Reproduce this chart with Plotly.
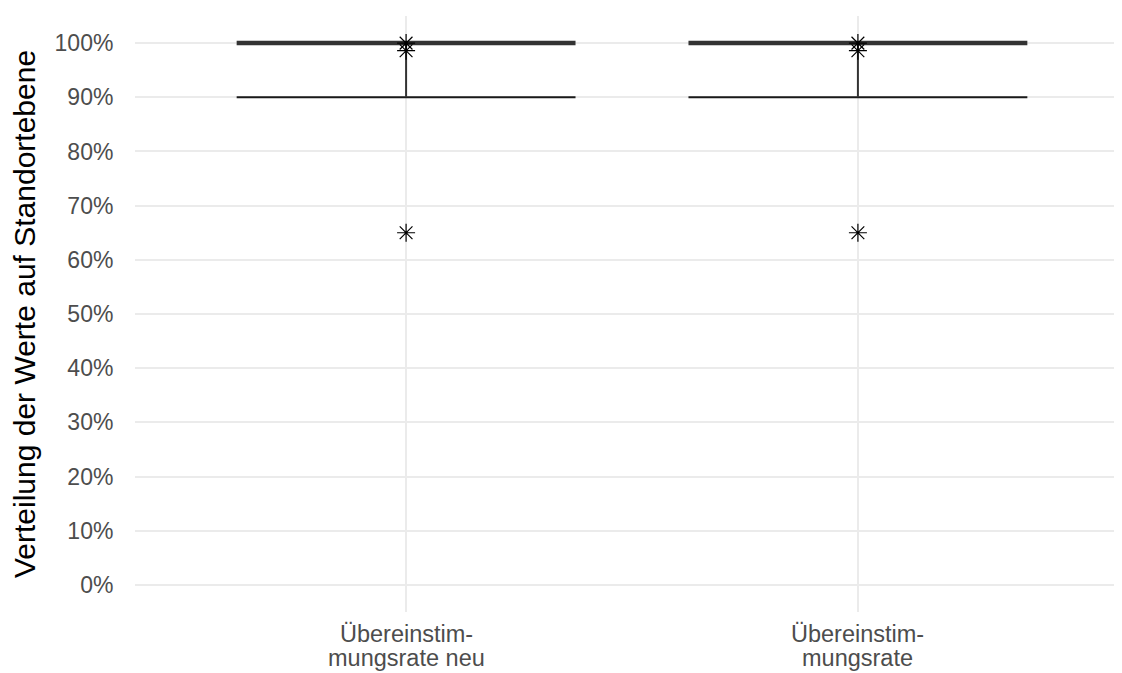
import plotly.graph_objects as go

categories = ["Übereinstim-<br>mungsrate neu", "Übereinstim-<br>mungsrate"]
x_pos = [1, 2]
medians = [100, 100]
lower_whisker = [90, 90]
outliers = [[100, 98.6, 65], [100, 98.6, 65]]
y_ticks = [0, 10, 20, 30, 40, 50, 60, 70, 80, 90, 100]
y_tick_labels = ["0%", "10%", "20%", "30%", "40%", "50%", "60%", "70%", "80%", "90%", "100%"]
box_width = 0.75

fig = go.Figure()
half = box_width / 2
for xi, med, lo, outs in zip(x_pos, medians, lower_whisker, outliers):
    # lower whisker cap
    fig.add_trace(go.Scatter(x=[xi - half, xi + half], y=[lo, lo], mode="lines",
                             line=dict(color="#1a1a1a", width=2), showlegend=False, hoverinfo="skip"))
    # whisker
    fig.add_trace(go.Scatter(x=[xi, xi], y=[lo, med], mode="lines",
                             line=dict(color="#333333", width=2), showlegend=False, hoverinfo="skip"))
    # median (collapsed box)
    fig.add_trace(go.Scatter(x=[xi - half, xi + half], y=[med, med], mode="lines",
                             line=dict(color="#333333", width=4.5), showlegend=False, hoverinfo="skip"))
    # outliers
    fig.add_trace(go.Scatter(x=[xi] * len(outs), y=outs, mode="markers",
                             marker=dict(symbol="asterisk-open", size=15, color="black",
                                         line=dict(color="black", width=1.2)),
                             showlegend=False))

# category labels (two lines each, tighter line spacing than tick labels allow)
line_shifts = [-22, -46]
for xi, cat in zip(x_pos, categories):
    for line_text, shift in zip(cat.split("<br>"), line_shifts):
        fig.add_annotation(x=xi, xref="x", y=0, yref="paper", yanchor="middle",
                           yshift=shift, text=line_text, showarrow=False,
                           font=dict(size=23.5, color="#4D4D4D"))

fig.update_layout(
    width=1122, height=673,
    margin=dict(l=127, r=1, t=8, b=69),
    plot_bgcolor="white", paper_bgcolor="white",
    font=dict(family="Liberation Sans, Arial, sans-serif"),
    xaxis=dict(range=[0.4, 2.6], tickvals=x_pos, showticklabels=False,
               showgrid=True, gridcolor="#EBEBEB", gridwidth=1.5, zeroline=False,
               showline=False, ticks="", automargin=False),
    yaxis=dict(range=[-5, 105], tickvals=y_ticks, ticktext=y_tick_labels,
               showgrid=True, gridcolor="#EBEBEB", gridwidth=1.5, zeroline=False,
               showline=False, ticks="outside", ticklen=16, tickcolor="rgba(0,0,0,0)",
               tickfont=dict(size=23, color="#4D4D4D"), automargin=False,
               title=dict(text="Verteilung der Werte auf Standortebene",
                          font=dict(size=30, color="black"), standoff=12)),
)

fig.write_html("out.html")
